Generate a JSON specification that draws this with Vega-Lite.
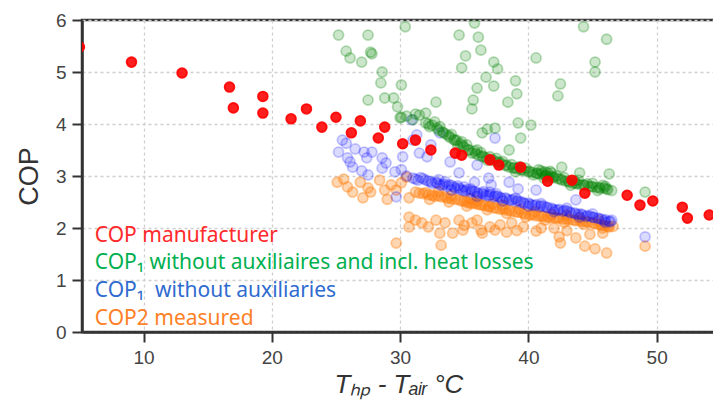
{
  "$schema": "https://vega.github.io/schema/vega-lite/v6.json",
  "width": 633,
  "height": 312,
  "autosize": {"type": "none"},
  "padding": {"left": 82, "top": 20, "right": 0, "bottom": 75},
  "background": "white",
  "config": {
    "view": {"stroke": "#333", "strokeWidth": 2.5},
    "axis": {
      "labelFont": "Liberation Sans", "labelFontSize": 19, "labelColor": "#444",
      "titleFont": "Liberation Sans", "titleColor": "#333", "titleFontWeight": "normal",
      "domainColor": "#333", "domainWidth": 2.5, "tickColor": "#333", "tickWidth": 2, "tickSize": 10,
      "gridColor": "#d0d0d0", "gridDash": [3, 3], "gridWidth": 1.3
    }
  },
  "datasets": {
    "pts": [
      {"series":"cop2","x":25.1,"y":2.88},{"series":"cop2","x":25.6,"y":2.94},{"series":"cop2","x":25.9,"y":2.79},{"series":"cop2","x":26.3,"y":2.69},{"series":"cop2","x":27.1,"y":2.58},{"series":"cop2","x":26.9,"y":2.88},{"series":"cop2","x":27.5,"y":2.77},{"series":"cop2","x":27.7,"y":2.69},{"series":"cop2","x":28.4,"y":2.92},{"series":"cop2","x":28.8,"y":2.73},{"series":"cop2","x":29.3,"y":2.83},{"series":"cop2","x":29.7,"y":2.73},{"series":"cop2","x":30.1,"y":2.87},{"series":"cop2","x":30.5,"y":2.98},{"series":"cop2","x":30.7,"y":2.58},{"series":"cop2","x":31.2,"y":2.69},{"series":"cop2","x":29.0,"y":2.55},
      {"series":"cop2","x":31.5,"y":2.67},{"series":"cop2","x":32.0,"y":2.68},{"series":"cop2","x":32.5,"y":2.63},{"series":"cop2","x":33.0,"y":2.62},{"series":"cop2","x":33.5,"y":2.60},{"series":"cop2","x":34.0,"y":2.56},{"series":"cop2","x":34.6,"y":2.54},{"series":"cop2","x":35.0,"y":2.52},{"series":"cop2","x":35.4,"y":2.48},{"series":"cop2","x":35.8,"y":2.48},{"series":"cop2","x":36.2,"y":2.45},{"series":"cop2","x":36.6,"y":2.43},{"series":"cop2","x":37.0,"y":2.41},{"series":"cop2","x":37.5,"y":2.38},{"series":"cop2","x":38.0,"y":2.37},{"series":"cop2","x":38.5,"y":2.34},{"series":"cop2","x":39.0,"y":2.31},{"series":"cop2","x":39.5,"y":2.29},{"series":"cop2","x":40.1,"y":2.25},{"series":"cop2","x":40.5,"y":2.24},{"series":"cop2","x":41.0,"y":2.23},{"series":"cop2","x":41.5,"y":2.21},{"series":"cop2","x":42.0,"y":2.20},{"series":"cop2","x":42.4,"y":2.19},{"series":"cop2","x":43.0,"y":2.17},{"series":"cop2","x":43.5,"y":2.15},{"series":"cop2","x":44.0,"y":2.14},{"series":"cop2","x":44.5,"y":2.12},{"series":"cop2","x":45.0,"y":2.10},{"series":"cop2","x":45.5,"y":2.07},{"series":"cop2","x":46.0,"y":2.04},{"series":"cop2","x":46.3,"y":2.02},{"series":"cop2","x":46.6,"y":2.03},
      {"series":"cop2","x":31.8,"y":2.66},{"series":"cop2","x":32.2,"y":2.64},{"series":"cop2","x":32.7,"y":2.61},{"series":"cop2","x":33.2,"y":2.60},{"series":"cop2","x":33.7,"y":2.57},{"series":"cop2","x":34.3,"y":2.55},{"series":"cop2","x":34.8,"y":2.52},{"series":"cop2","x":35.2,"y":2.50},{"series":"cop2","x":35.6,"y":2.47},{"series":"cop2","x":36.0,"y":2.46},{"series":"cop2","x":36.4,"y":2.44},{"series":"cop2","x":36.9,"y":2.41},{"series":"cop2","x":37.3,"y":2.39},{"series":"cop2","x":37.8,"y":2.36},{"series":"cop2","x":38.2,"y":2.35},{"series":"cop2","x":38.7,"y":2.32},{"series":"cop2","x":39.2,"y":2.30},{"series":"cop2","x":39.7,"y":2.27},{"series":"cop2","x":40.3,"y":2.26},{"series":"cop2","x":40.8,"y":2.23},{"series":"cop2","x":41.2,"y":2.22},{"series":"cop2","x":41.7,"y":2.20},{"series":"cop2","x":42.2,"y":2.19},{"series":"cop2","x":42.7,"y":2.17},{"series":"cop2","x":43.2,"y":2.16},{"series":"cop2","x":43.7,"y":2.14},{"series":"cop2","x":44.2,"y":2.12},{"series":"cop2","x":44.7,"y":2.11},{"series":"cop2","x":45.2,"y":2.08},{"series":"cop2","x":45.7,"y":2.05},{"series":"cop2","x":46.2,"y":2.03},{"series":"cop2","x":34.0,"y":2.62},{"series":"cop2","x":36.0,"y":2.52},{"series":"cop2","x":37.2,"y":2.46},{"series":"cop2","x":39.3,"y":2.36},{"series":"cop2","x":41.8,"y":2.26},{"series":"cop2","x":44.0,"y":2.19},
      {"series":"cop2","x":32.3,"y":2.55},{"series":"cop2","x":33.8,"y":2.50},{"series":"cop2","x":35.2,"y":2.42},{"series":"cop2","x":36.8,"y":2.35},{"series":"cop2","x":38.3,"y":2.28},{"series":"cop2","x":39.8,"y":2.21},{"series":"cop2","x":41.3,"y":2.15},{"series":"cop2","x":42.8,"y":2.11},{"series":"cop2","x":44.3,"y":2.07},{"series":"cop2","x":45.8,"y":2.00},{"series":"cop2","x":33.0,"y":2.70},{"series":"cop2","x":35.5,"y":2.56},{"series":"cop2","x":38.0,"y":2.44},{"series":"cop2","x":40.5,"y":2.31},{"series":"cop2","x":43.0,"y":2.24},{"series":"cop2","x":45.5,"y":2.14},
      {"series":"cop2","x":30.7,"y":2.21},{"series":"cop2","x":31.2,"y":2.15},{"series":"cop2","x":30.7,"y":2.02},{"series":"cop2","x":31.7,"y":2.10},{"series":"cop2","x":32.8,"y":2.15},{"series":"cop2","x":32.2,"y":2.02},{"series":"cop2","x":33.5,"y":2.10},{"series":"cop2","x":34.6,"y":2.15},{"series":"cop2","x":34.9,"y":1.96},{"series":"cop2","x":35.6,"y":2.10},{"series":"cop2","x":34.1,"y":1.90},{"series":"cop2","x":33.1,"y":1.90},{"series":"cop2","x":29.7,"y":1.71},{"series":"cop2","x":33.2,"y":1.67},{"series":"cop2","x":36.0,"y":2.15},{"series":"cop2","x":37.0,"y":2.02},{"series":"cop2","x":36.3,"y":1.96},{"series":"cop2","x":37.8,"y":2.06},{"series":"cop2","x":38.3,"y":1.92},{"series":"cop2","x":39.6,"y":2.02},{"series":"cop2","x":41.0,"y":2.00},{"series":"cop2","x":42.4,"y":1.83},{"series":"cop2","x":43.7,"y":1.81},{"series":"cop2","x":44.4,"y":1.65},{"series":"cop2","x":45.2,"y":1.60},{"series":"cop2","x":46.1,"y":1.52},{"series":"cop2","x":42.5,"y":1.71},{"series":"cop2","x":49.1,"y":1.65},{"series":"cop2","x":36.4,"y":1.90},{"series":"cop2","x":37.4,"y":1.96},{"series":"cop2","x":39.1,"y":1.95},{"series":"cop2","x":40.6,"y":1.94},{"series":"cop2","x":42.0,"y":2.00},{"series":"cop2","x":43.0,"y":1.95},{"series":"cop2","x":44.8,"y":1.88},{"series":"cop2","x":45.8,"y":1.90},{"series":"cop2","x":38.7,"y":2.10},{"series":"cop2","x":35.0,"y":2.05},
      {"series":"cop1","x":30.5,"y":3.00},{"series":"cop1","x":31.0,"y":2.96},{"series":"cop1","x":31.4,"y":2.92},{"series":"cop1","x":31.8,"y":2.95},{"series":"cop1","x":32.2,"y":2.90},{"series":"cop1","x":32.5,"y":2.86},{"series":"cop1","x":32.8,"y":2.88},{"series":"cop1","x":33.1,"y":2.83},{"series":"cop1","x":33.4,"y":2.85},{"series":"cop1","x":33.7,"y":2.80},{"series":"cop1","x":34.0,"y":2.82},{"series":"cop1","x":34.3,"y":2.76},{"series":"cop1","x":34.6,"y":2.77},{"series":"cop1","x":34.9,"y":2.72},{"series":"cop1","x":35.2,"y":2.74},{"series":"cop1","x":35.5,"y":2.69},{"series":"cop1","x":35.8,"y":2.70},{"series":"cop1","x":36.1,"y":2.66},{"series":"cop1","x":36.4,"y":2.67},{"series":"cop1","x":36.7,"y":2.63},{"series":"cop1","x":37.0,"y":2.64},{"series":"cop1","x":37.3,"y":2.60},{"series":"cop1","x":37.6,"y":2.61},{"series":"cop1","x":37.9,"y":2.57},{"series":"cop1","x":38.2,"y":2.58},{"series":"cop1","x":38.5,"y":2.54},{"series":"cop1","x":38.8,"y":2.55},{"series":"cop1","x":39.1,"y":2.51},{"series":"cop1","x":39.4,"y":2.50},{"series":"cop1","x":39.7,"y":2.47},{"series":"cop1","x":40.0,"y":2.48},{"series":"cop1","x":40.3,"y":2.44},{"series":"cop1","x":40.6,"y":2.45},{"series":"cop1","x":40.9,"y":2.41},{"series":"cop1","x":41.2,"y":2.42},{"series":"cop1","x":41.5,"y":2.39},{"series":"cop1","x":41.8,"y":2.38},{"series":"cop1","x":42.1,"y":2.35},{"series":"cop1","x":42.4,"y":2.36},{"series":"cop1","x":42.7,"y":2.32},{"series":"cop1","x":43.0,"y":2.33},{"series":"cop1","x":43.3,"y":2.29},{"series":"cop1","x":43.6,"y":2.29},{"series":"cop1","x":43.9,"y":2.26},{"series":"cop1","x":44.2,"y":2.25},{"series":"cop1","x":44.5,"y":2.22},{"series":"cop1","x":44.8,"y":2.23},{"series":"cop1","x":45.1,"y":2.20},{"series":"cop1","x":45.4,"y":2.19},{"series":"cop1","x":45.7,"y":2.17},{"series":"cop1","x":46.0,"y":2.16},{"series":"cop1","x":46.3,"y":2.13},{"series":"cop1","x":46.5,"y":2.15},
      {"series":"cop1","x":31.2,"y":2.94},{"series":"cop1","x":31.6,"y":2.97},{"series":"cop1","x":32.0,"y":2.92},{"series":"cop1","x":32.4,"y":2.89},{"series":"cop1","x":32.9,"y":2.86},{"series":"cop1","x":33.3,"y":2.82},{"series":"cop1","x":33.8,"y":2.83},{"series":"cop1","x":34.2,"y":2.79},{"series":"cop1","x":34.7,"y":2.74},{"series":"cop1","x":35.1,"y":2.71},{"series":"cop1","x":35.6,"y":2.72},{"series":"cop1","x":36.0,"y":2.68},{"series":"cop1","x":36.5,"y":2.65},{"series":"cop1","x":36.9,"y":2.62},{"series":"cop1","x":37.4,"y":2.62},{"series":"cop1","x":37.8,"y":2.59},{"series":"cop1","x":38.3,"y":2.56},{"series":"cop1","x":38.7,"y":2.53},{"series":"cop1","x":39.2,"y":2.53},{"series":"cop1","x":39.6,"y":2.49},{"series":"cop1","x":40.1,"y":2.46},{"series":"cop1","x":40.5,"y":2.43},{"series":"cop1","x":41.0,"y":2.43},{"series":"cop1","x":41.4,"y":2.40},{"series":"cop1","x":41.9,"y":2.36},{"series":"cop1","x":42.3,"y":2.34},{"series":"cop1","x":42.8,"y":2.34},{"series":"cop1","x":43.2,"y":2.31},{"series":"cop1","x":43.7,"y":2.27},{"series":"cop1","x":44.1,"y":2.27},{"series":"cop1","x":44.6,"y":2.24},{"series":"cop1","x":45.0,"y":2.21},{"series":"cop1","x":45.5,"y":2.18},{"series":"cop1","x":45.9,"y":2.14},{"series":"cop1","x":46.4,"y":2.12},{"series":"cop1","x":33.5,"y":2.89},{"series":"cop1","x":34.5,"y":2.81},{"series":"cop1","x":35.5,"y":2.75},{"series":"cop1","x":36.5,"y":2.70},{"series":"cop1","x":37.5,"y":2.66},
      {"series":"cop1","x":33.0,"y":2.93},{"series":"cop1","x":35.0,"y":2.79},{"series":"cop1","x":37.0,"y":2.69},{"series":"cop1","x":39.0,"y":2.57},{"series":"cop1","x":41.0,"y":2.47},{"series":"cop1","x":43.0,"y":2.38},{"series":"cop1","x":45.0,"y":2.27},{"series":"cop1","x":34.0,"y":2.73},{"series":"cop1","x":36.0,"y":2.61},{"series":"cop1","x":38.0,"y":2.52},{"series":"cop1","x":40.0,"y":2.42},{"series":"cop1","x":42.0,"y":2.31},{"series":"cop1","x":44.0,"y":2.21},{"series":"cop1","x":46.0,"y":2.11},
      {"series":"cop1","x":25.2,"y":3.46},{"series":"cop1","x":25.5,"y":3.69},{"series":"cop1","x":25.8,"y":3.63},{"series":"cop1","x":25.9,"y":3.35},{"series":"cop1","x":26.1,"y":3.27},{"series":"cop1","x":26.3,"y":3.17},{"series":"cop1","x":27.2,"y":3.46},{"series":"cop1","x":27.4,"y":3.35},{"series":"cop1","x":27.8,"y":3.46},{"series":"cop1","x":27.5,"y":3.02},{"series":"cop1","x":28.6,"y":3.35},{"series":"cop1","x":28.6,"y":3.15},{"series":"cop1","x":29.6,"y":3.08},{"series":"cop1","x":30.1,"y":3.12},{"series":"cop1","x":30.2,"y":3.37},{"series":"cop1","x":30.9,"y":4.08},{"series":"cop1","x":31.0,"y":3.69},{"series":"cop1","x":31.3,"y":3.79},{"series":"cop1","x":31.5,"y":3.44},{"series":"cop1","x":32.1,"y":3.37},{"series":"cop1","x":32.4,"y":3.60},{"series":"cop1","x":33.1,"y":3.83},{"series":"cop1","x":33.9,"y":3.27},{"series":"cop1","x":34.6,"y":3.06},{"series":"cop1","x":29.7,"y":2.60},{"series":"cop1","x":37.4,"y":3.73},{"series":"cop1","x":36.0,"y":3.21},{"series":"cop1","x":35.8,"y":2.88},{"series":"cop1","x":36.9,"y":2.96},{"series":"cop1","x":37.1,"y":2.83},{"series":"cop1","x":38.5,"y":2.88},{"series":"cop1","x":39.2,"y":2.75},{"series":"cop1","x":40.6,"y":2.73},{"series":"cop1","x":43.7,"y":2.54},{"series":"cop1","x":49.1,"y":1.83},{"series":"cop1","x":26.5,"y":3.52},{"series":"cop1","x":28.9,"y":3.25},{"series":"cop1","x":27.0,"y":3.10},
      {"series":"cop1_loss","x":25.2,"y":5.71},{"series":"cop1_loss","x":27.5,"y":5.71},{"series":"cop1_loss","x":25.8,"y":5.40},{"series":"cop1_loss","x":26.1,"y":5.27},{"series":"cop1_loss","x":27.0,"y":5.19},{"series":"cop1_loss","x":27.7,"y":5.38},{"series":"cop1_loss","x":27.8,"y":5.35},{"series":"cop1_loss","x":28.6,"y":5.00},{"series":"cop1_loss","x":28.5,"y":4.79},{"series":"cop1_loss","x":30.1,"y":4.75},{"series":"cop1_loss","x":27.5,"y":4.46},{"series":"cop1_loss","x":28.8,"y":4.50},{"series":"cop1_loss","x":29.5,"y":4.50},{"series":"cop1_loss","x":29.8,"y":4.33},{"series":"cop1_loss","x":30.1,"y":4.13},{"series":"cop1_loss","x":30.4,"y":5.87},{"series":"cop1_loss","x":31.2,"y":4.19},{"series":"cop1_loss","x":32.0,"y":4.21},{"series":"cop1_loss","x":32.8,"y":4.42},{"series":"cop1_loss","x":34.6,"y":5.71},{"series":"cop1_loss","x":35.1,"y":5.31},{"series":"cop1_loss","x":34.8,"y":5.08},{"series":"cop1_loss","x":35.8,"y":5.94},{"series":"cop1_loss","x":36.1,"y":5.67},{"series":"cop1_loss","x":36.3,"y":5.42},{"series":"cop1_loss","x":36.0,"y":4.69},{"series":"cop1_loss","x":35.7,"y":4.46},{"series":"cop1_loss","x":35.6,"y":4.29},{"series":"cop1_loss","x":37.3,"y":5.19},{"series":"cop1_loss","x":37.6,"y":5.06},{"series":"cop1_loss","x":36.7,"y":4.90},{"series":"cop1_loss","x":37.3,"y":4.73},{"series":"cop1_loss","x":39.0,"y":4.83},{"series":"cop1_loss","x":39.1,"y":4.58},{"series":"cop1_loss","x":38.4,"y":4.42},{"series":"cop1_loss","x":40.6,"y":5.27},{"series":"cop1_loss","x":44.3,"y":5.87},{"series":"cop1_loss","x":46.1,"y":5.63},{"series":"cop1_loss","x":45.2,"y":5.19},{"series":"cop1_loss","x":45.2,"y":5.00},{"series":"cop1_loss","x":42.5,"y":4.77},{"series":"cop1_loss","x":42.3,"y":4.54},{"series":"cop1_loss","x":39.2,"y":4.02},{"series":"cop1_loss","x":40.2,"y":3.98},{"series":"cop1_loss","x":39.4,"y":3.73},{"series":"cop1_loss","x":37.4,"y":3.92},{"series":"cop1_loss","x":38.5,"y":3.50},{"series":"cop1_loss","x":36.4,"y":3.83},{"series":"cop1_loss","x":36.8,"y":3.90},{"series":"cop1_loss","x":42.6,"y":3.17},{"series":"cop1_loss","x":44.0,"y":3.06},{"series":"cop1_loss","x":46.3,"y":3.04},{"series":"cop1_loss","x":49.1,"y":2.69},
      {"series":"cop1_loss","x":30.0,"y":4.12},{"series":"cop1_loss","x":30.5,"y":4.15},{"series":"cop1_loss","x":31.0,"y":4.08},{"series":"cop1_loss","x":31.5,"y":4.17},{"series":"cop1_loss","x":32.0,"y":4.02},{"series":"cop1_loss","x":32.3,"y":3.95},{"series":"cop1_loss","x":32.5,"y":3.98},{"series":"cop1_loss","x":32.7,"y":4.04},{"series":"cop1_loss","x":33.0,"y":3.88},{"series":"cop1_loss","x":33.3,"y":3.85},{"series":"cop1_loss","x":33.6,"y":3.80},{"series":"cop1_loss","x":33.9,"y":3.74},{"series":"cop1_loss","x":34.2,"y":3.70},{"series":"cop1_loss","x":34.4,"y":3.69},{"series":"cop1_loss","x":34.7,"y":3.62},{"series":"cop1_loss","x":35.0,"y":3.55},{"series":"cop1_loss","x":35.3,"y":3.50},{"series":"cop1_loss","x":35.6,"y":3.44},{"series":"cop1_loss","x":35.8,"y":3.48},{"series":"cop1_loss","x":36.1,"y":3.40},{"series":"cop1_loss","x":36.4,"y":3.38},{"series":"cop1_loss","x":36.7,"y":3.35},{"series":"cop1_loss","x":37.0,"y":3.37},{"series":"cop1_loss","x":37.3,"y":3.30},{"series":"cop1_loss","x":37.6,"y":3.26},{"series":"cop1_loss","x":37.9,"y":3.24},{"series":"cop1_loss","x":38.2,"y":3.20},{"series":"cop1_loss","x":38.5,"y":3.17},{"series":"cop1_loss","x":38.8,"y":3.15},{"series":"cop1_loss","x":39.1,"y":3.14},{"series":"cop1_loss","x":39.4,"y":3.12},{"series":"cop1_loss","x":39.7,"y":3.10},{"series":"cop1_loss","x":40.0,"y":3.08},{"series":"cop1_loss","x":40.3,"y":3.07},{"series":"cop1_loss","x":40.6,"y":3.05},{"series":"cop1_loss","x":40.9,"y":3.03},{"series":"cop1_loss","x":41.1,"y":3.06},{"series":"cop1_loss","x":41.4,"y":3.00},{"series":"cop1_loss","x":41.7,"y":2.99},{"series":"cop1_loss","x":42.0,"y":2.97},{"series":"cop1_loss","x":42.3,"y":2.95},{"series":"cop1_loss","x":42.6,"y":2.92},{"series":"cop1_loss","x":42.9,"y":2.90},{"series":"cop1_loss","x":43.2,"y":2.88},{"series":"cop1_loss","x":43.5,"y":2.86},{"series":"cop1_loss","x":43.8,"y":2.85},{"series":"cop1_loss","x":44.1,"y":2.83},{"series":"cop1_loss","x":44.4,"y":2.82},{"series":"cop1_loss","x":44.7,"y":2.80},{"series":"cop1_loss","x":45.0,"y":2.79},{"series":"cop1_loss","x":45.3,"y":2.78},{"series":"cop1_loss","x":45.6,"y":2.76},{"series":"cop1_loss","x":45.9,"y":2.77},{"series":"cop1_loss","x":46.2,"y":2.74},{"series":"cop1_loss","x":46.5,"y":2.72},
      {"series":"cop1_loss","x":32.2,"y":4.00},{"series":"cop1_loss","x":32.9,"y":3.92},{"series":"cop1_loss","x":33.4,"y":3.83},{"series":"cop1_loss","x":33.8,"y":3.77},{"series":"cop1_loss","x":34.3,"y":3.68},{"series":"cop1_loss","x":34.9,"y":3.58},{"series":"cop1_loss","x":35.4,"y":3.50},{"series":"cop1_loss","x":35.9,"y":3.43},{"series":"cop1_loss","x":36.5,"y":3.37},{"series":"cop1_loss","x":37.1,"y":3.32},{"series":"cop1_loss","x":37.7,"y":3.27},{"series":"cop1_loss","x":38.3,"y":3.21},{"series":"cop1_loss","x":38.9,"y":3.16},{"series":"cop1_loss","x":39.5,"y":3.12},{"series":"cop1_loss","x":40.1,"y":3.09},{"series":"cop1_loss","x":40.7,"y":3.05},{"series":"cop1_loss","x":41.3,"y":3.01},{"series":"cop1_loss","x":41.9,"y":2.98},{"series":"cop1_loss","x":42.5,"y":2.94},{"series":"cop1_loss","x":43.1,"y":2.90},{"series":"cop1_loss","x":43.7,"y":2.86},{"series":"cop1_loss","x":44.3,"y":2.83},{"series":"cop1_loss","x":44.9,"y":2.80},{"series":"cop1_loss","x":45.5,"y":2.78},{"series":"cop1_loss","x":46.1,"y":2.75},{"series":"cop1_loss","x":40.4,"y":3.02},{"series":"cop1_loss","x":41.6,"y":2.95},{"series":"cop1_loss","x":42.2,"y":3.00},{"series":"cop1_loss","x":43.6,"y":2.90},{"series":"cop1_loss","x":44.6,"y":2.85},{"series":"cop1_loss","x":45.8,"y":2.82},{"series":"cop1_loss","x":39.3,"y":3.18},{"series":"cop1_loss","x":38.0,"y":3.28},{"series":"cop1_loss","x":36.0,"y":3.50},{"series":"cop1_loss","x":34.8,"y":3.66},{"series":"cop1_loss","x":41.3,"y":3.08},{"series":"cop1_loss","x":41.5,"y":3.06},{"series":"cop1_loss","x":41.7,"y":3.09},{"series":"cop1_loss","x":41.0,"y":3.10},
      {"series":"cop1_loss","x":33.1,"y":3.95},{"series":"cop1_loss","x":34.0,"y":3.80},{"series":"cop1_loss","x":35.2,"y":3.60},{"series":"cop1_loss","x":36.3,"y":3.45},{"series":"cop1_loss","x":37.5,"y":3.34},{"series":"cop1_loss","x":38.7,"y":3.22},{"series":"cop1_loss","x":39.8,"y":3.15},{"series":"cop1_loss","x":40.8,"y":3.12},{"series":"cop1_loss","x":41.8,"y":3.06},{"series":"cop1_loss","x":42.8,"y":2.97},{"series":"cop1_loss","x":43.9,"y":2.92},{"series":"cop1_loss","x":45.0,"y":2.86},{"series":"cop1_loss","x":46.0,"y":2.80},{"series":"cop1_loss","x":34.5,"y":3.58},{"series":"cop1_loss","x":36.8,"y":3.30},{"series":"cop1_loss","x":39.0,"y":3.08},{"series":"cop1_loss","x":41.2,"y":2.96},{"series":"cop1_loss","x":43.3,"y":2.82},{"series":"cop1_loss","x":45.4,"y":2.72},
      {"series":"manufacturer","x":5.0,"y":5.48},{"series":"manufacturer","x":9.06,"y":5.19},{"series":"manufacturer","x":13.0,"y":4.98},{"series":"manufacturer","x":16.7,"y":4.71},{"series":"manufacturer","x":17.0,"y":4.31},{"series":"manufacturer","x":19.3,"y":4.53},{"series":"manufacturer","x":19.3,"y":4.21},{"series":"manufacturer","x":21.5,"y":4.10},{"series":"manufacturer","x":22.7,"y":4.29},{"series":"manufacturer","x":23.9,"y":3.94},{"series":"manufacturer","x":25.0,"y":4.13},{"series":"manufacturer","x":26.2,"y":3.83},{"series":"manufacturer","x":26.9,"y":4.06},{"series":"manufacturer","x":28.3,"y":3.73},{"series":"manufacturer","x":28.8,"y":3.94},{"series":"manufacturer","x":30.2,"y":3.62},{"series":"manufacturer","x":31.2,"y":3.69},{"series":"manufacturer","x":32.4,"y":3.50},{"series":"manufacturer","x":34.3,"y":3.44},{"series":"manufacturer","x":34.8,"y":3.40},{"series":"manufacturer","x":37.0,"y":3.31},{"series":"manufacturer","x":37.7,"y":3.21},{"series":"manufacturer","x":39.4,"y":3.17},{"series":"manufacturer","x":41.5,"y":2.90},{"series":"manufacturer","x":43.4,"y":2.92},{"series":"manufacturer","x":44.4,"y":2.67},{"series":"manufacturer","x":47.7,"y":2.63},{"series":"manufacturer","x":48.7,"y":2.44},{"series":"manufacturer","x":49.7,"y":2.52},{"series":"manufacturer","x":52.0,"y":2.40},{"series":"manufacturer","x":52.4,"y":2.19},{"series":"manufacturer","x":54.1,"y":2.25}
    ],
    "leg": [
      {"series":"manufacturer","label":"COP manufacturer","x":6.2,"y":1.85},
      {"series":"cop1_loss","label":"COP₁ without auxiliaires and incl. heat losses","x":6.2,"y":1.33},
      {"series":"cop1","label":"COP₁\u00a0 without auxiliaries","x":6.2,"y":0.79},
      {"series":"cop2","label":"COP2 measured","x":6.2,"y":0.25}
    ]
  },
  "encoding": {
    "x": {"field": "x", "type": "quantitative", "scale": {"domain": [5.2, 54.55], "nice": false, "zero": false},
          "axis": {"values": [10, 20, 30, 40, 50], "title": "Tₕₚ - Tₐᵢᵣ °C", "titleFontSize": 26, "titleFontStyle": "italic", "titlePadding": 4, "labelPadding": 6}},
    "y": {"field": "y", "type": "quantitative", "scale": {"domain": [0, 6], "nice": false},
          "axis": {"values": [0, 1, 2, 3, 4, 5, 6], "title": "COP", "titleFontSize": 27, "titlePadding": 12, "labelPadding": 6}}
  },
  "layer": [
    {
      "data": {"name": "pts"},
      "transform": [{"filter": "datum.series === 'cop2'"}],
      "mark": {"type": "point", "shape": "circle", "filled": true, "clip": true, "size": 100, "strokeWidth": 1.8, "opacity": 1, "fill": "#ff7f0e", "stroke": "#ff7f0e", "fillOpacity": 0.32, "strokeOpacity": 0.4}
    },
    {
      "data": {"name": "pts"},
      "transform": [{"filter": "datum.series === 'cop1'"}],
      "mark": {"type": "point", "shape": "circle", "filled": true, "clip": true, "size": 100, "strokeWidth": 1.8, "opacity": 1, "fill": "#0000ff", "stroke": "#0000ff", "fillOpacity": 0.14, "strokeOpacity": 0.22}
    },
    {
      "data": {"name": "pts"},
      "transform": [{"filter": "datum.series === 'cop1_loss'"}],
      "mark": {"type": "point", "shape": "circle", "filled": true, "clip": true, "size": 100, "strokeWidth": 1.8, "opacity": 1, "fill": "#008000", "stroke": "#008000", "fillOpacity": 0.2, "strokeOpacity": 0.28}
    },
    {
      "data": {"name": "pts"},
      "transform": [{"filter": "datum.series === 'manufacturer'"}],
      "mark": {"type": "point", "shape": "circle", "filled": true, "clip": true, "size": 95, "strokeWidth": 1.8, "opacity": 1, "fill": "#ff0000", "stroke": "#ff0000", "fillOpacity": 0.88, "strokeOpacity": 0.9}
    },
    {
      "data": {"name": "leg"},
      "mark": {"type": "text", "align": "left", "baseline": "middle", "font": "Noto Sans", "fontSize": 21},
      "encoding": {
        "text": {"field": "label"},
        "color": {"field": "series", "type": "nominal", "legend": null,
                  "scale": {"domain": ["manufacturer", "cop1_loss", "cop1", "cop2"], "range": ["#ff2a2a", "#00b050", "#2f6bd0", "#ff7f27"]}}
      }
    }
  ]
}
